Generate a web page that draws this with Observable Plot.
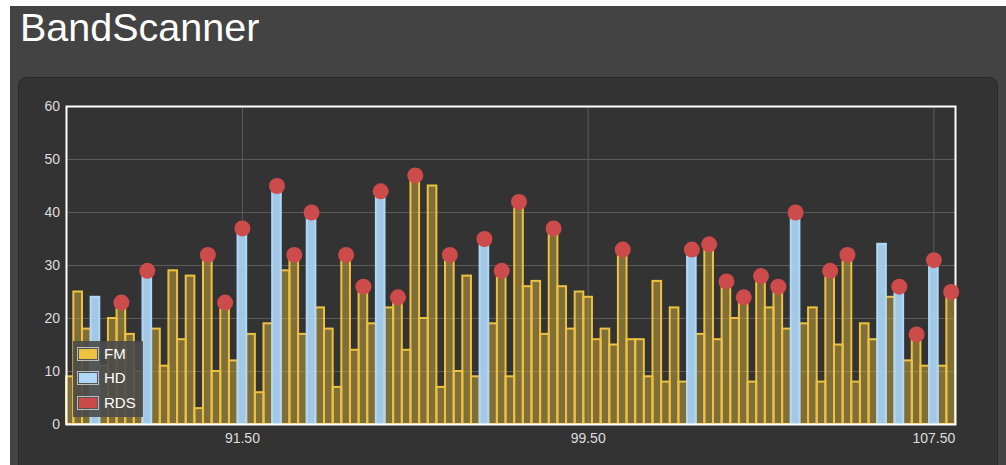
<!DOCTYPE html>
<html>
<head>
<meta charset="utf-8">
<script src="https://cdn.jsdelivr.net/npm/d3@7"></script>
<script src="https://cdn.jsdelivr.net/npm/@observablehq/plot@0.6"></script>
<style>
  html, body { margin: 0; padding: 0; background: #ffffff; width: 1006px; height: 465px; overflow: hidden; }
  #page { position: absolute; left: 10px; top: 6px; width: 996px; height: 459px; background: #434343; overflow: hidden; }
  #title { position: absolute; left: 10px; top: 1px; font-family: "Liberation Sans", Arial, sans-serif; font-size: 39.5px; color: #ffffff; line-height: 40px; }
  #panel { position: absolute; left: 8px; top: 71px; width: 980px; height: 420px; background: #333333; border: 1px solid #282828; border-radius: 9px; box-sizing: border-box; }
  #chart { position: absolute; left: 0; top: 0; }
  #legend { position: absolute; left: 73px; top: 341px; width: 70px; height: 76px; background: rgba(74,74,74,0.9); font-family: "Liberation Sans", Arial, sans-serif; }
  .row { position: absolute; left: 4px; height: 15px; }
  .sw { position: absolute; left: 0; top: 0; width: 22px; height: 14px; border: 1px solid #bdbdbd; box-sizing: border-box; padding: 1px; }
  .sw div { width: 100%; height: 100%; }
  .lab { position: absolute; left: 27px; top: -2px; font-size: 15px; color: #ffffff; line-height: 18px; white-space: nowrap; }
</style>
</head>
<body>
<div id="page">
  <div id="title">BandScanner</div>
  <div id="panel"></div>
</div>
<div id="chart"></div>
<div id="legend"></div>
<script>
// Scanned frequencies (MHz)
const freqs = [87.5, 87.7, 87.9, 88.1, 88.3, 88.5, 88.7, 88.9, 89.1, 89.3,
  89.5, 89.7, 89.9, 90.1, 90.3, 90.5, 90.7, 90.9, 91.1, 91.3,
  91.5, 91.7, 91.9, 92.1, 92.3, 92.5, 92.7, 92.9, 93.1, 93.3,
  93.5, 93.7, 93.9, 94.1, 94.3, 94.5, 94.7, 94.9, 95.1, 95.3,
  95.5, 95.7, 95.9, 96.1, 96.3, 96.5, 96.7, 96.9, 97.1, 97.3,
  97.5, 97.7, 97.9, 98.1, 98.3, 98.5, 98.7, 98.9, 99.1, 99.3,
  99.5, 99.7, 99.9, 100.1, 100.3, 100.5, 100.7, 100.9, 101.1, 101.3,
  101.5, 101.7, 101.9, 102.1, 102.3, 102.5, 102.7, 102.9, 103.1, 103.3,
  103.5, 103.7, 103.9, 104.1, 104.3, 104.5, 104.7, 104.9, 105.1, 105.3,
  105.5, 105.7, 105.9, 106.1, 106.3, 106.5, 106.7, 106.9, 107.1, 107.3,
  107.5, 107.7, 107.9];

// Signal level at each frequency
const levels = [9, 25, 18, 24, 11, 20, 23, 17, 10, 29,
  18, 11, 29, 16, 28, 3, 32, 10, 23, 12,
  37, 17, 6, 19, 45, 29, 32, 17, 40, 22,
  18, 7, 32, 14, 26, 19, 44, 22, 24, 14,
  47, 20, 45, 7, 32, 10, 28, 9, 35, 19,
  29, 9, 42, 26, 27, 17, 37, 26, 18, 25,
  24, 16, 18, 15, 33, 16, 16, 9, 27, 8,
  22, 8, 33, 17, 34, 16, 27, 20, 24, 8,
  28, 22, 26, 18, 40, 19, 22, 8, 29, 15,
  32, 8, 19, 16, 34, 24, 26, 12, 17, 11,
  31, 11, 25];

// Stations with HD radio
const hdStations = [88.1, 89.3, 91.5, 92.3, 93.1, 94.7, 97.1, 101.9, 104.3, 106.3, 106.7, 107.5];

// Stations with RDS
const rdsStations = [88.7, 89.3, 90.7, 91.1, 91.5, 92.3, 92.7, 93.1, 93.9, 94.3,
  94.7, 95.1, 95.5, 96.3, 97.1, 97.5, 97.9, 98.7, 100.3, 101.9,
  102.3, 102.7, 103.1, 103.5, 103.9, 104.3, 105.1, 105.5, 106.7, 107.1,
  107.5, 107.9];

const yTicks = [0, 10, 20, 30, 40, 50, 60];
const xTicks = [91.5, 99.5, 107.5];
const xDomain = [87.43, 108.0];
const step = 0.2;

const key = f => f.toFixed(1);
const hdSet = new Set(hdStations.map(key));
const rdsSet = new Set(rdsStations.map(key));
const table = freqs.map((f, i) => ({f, v: levels[i], hd: hdSet.has(key(f)), rds: rdsSet.has(key(f))}));
const fm = table.filter(d => !d.hd);
const hd = table.filter(d => d.hd);
const rds = table.filter(d => d.rds);

const x1 = d => Math.max(d.f - step / 2, xDomain[0]);
const x2 = d => Math.min(d.f + step / 2, xDomain[1]);

const chart = Plot.plot({
  width: 1006,
  height: 465,
  marginLeft: 66,
  marginRight: 51,
  marginTop: 106,
  marginBottom: 41,
  style: {background: "transparent", color: "#dddddd", fontSize: "14px", fontFamily: "'Liberation Sans', Arial, sans-serif"},
  x: {type: "linear", domain: xDomain},
  y: {domain: [0, 60]},
  marks: [
    Plot.gridY([10, 20, 30, 40, 50], {stroke: "#5b5b5b", strokeOpacity: 1, strokeWidth: 1}),
    Plot.gridX(xTicks, {stroke: "#5b5b5b", strokeOpacity: 1, strokeWidth: 1}),
    Plot.rect(fm, {x1, x2, y1: 0, y2: "v", fill: "#edc240", fillOpacity: 0.42, stroke: "#edc240", strokeWidth: 2}),
    Plot.rect(hd, {x1, x2, y1: 0, y2: "v", fill: "#afd8f8", fillOpacity: 0.9, stroke: "#afd8f8", strokeWidth: 2}),
    Plot.frame({stroke: "#ffffff", strokeWidth: 2}),
    Plot.axisY(yTicks, {tickSize: 0, tickPadding: 6.5, label: null, fill: "#dddddd"}),
    Plot.axisX(xTicks, {tickSize: 0, tickPadding: 9, label: null, tickFormat: d => d.toFixed(2), fill: "#dddddd"}),
    Plot.dot(rds, {x: "f", y: "v", r: 8, fill: "#cd4b4b", stroke: "none"})
  ]
});
document.getElementById("chart").appendChild(chart);

// Legend
const legendItems = [
  {label: "FM", color: "#edc240"},
  {label: "HD", color: "#afd8f8"},
  {label: "RDS", color: "#cb4b4b"}
];
const legend = document.getElementById("legend");
legendItems.forEach((it, i) => {
  const row = document.createElement("div");
  row.className = "row";
  row.style.top = (6 + i * 24.4) + "px";
  row.innerHTML = `<div class="sw"><div style="background:${it.color}"></div></div><div class="lab">${it.label}</div>`;
  legend.appendChild(row);
});
</script>
</body>
</html>
